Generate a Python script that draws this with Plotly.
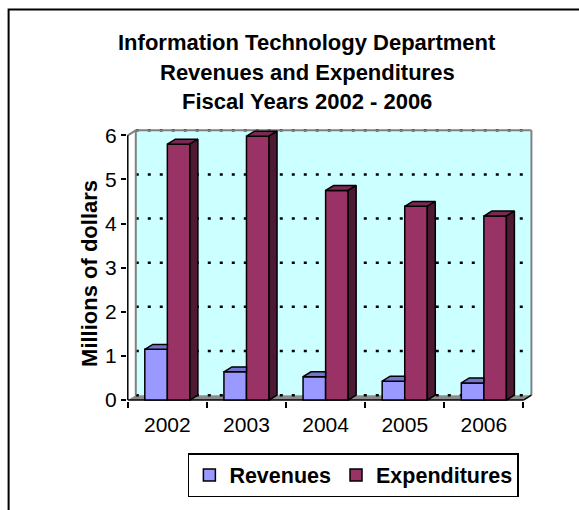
import plotly.graph_objects as go

# ---- data ----
years = ["2002", "2003", "2004", "2005", "2006"]
revenues = [1.15, 0.64, 0.53, 0.43, 0.39]
expenditures = [5.80, 5.98, 4.75, 4.39, 4.17]
y_ticks = [0, 1, 2, 3, 4, 5, 6]

# ---- geometry / style ----
W_PX, H_PX = 579, 510
DX, DY = 0.101, 0.113          # depth of the pseudo-3D boxes, in axis units
BAR_W = 0.285                  # width of each bar, in category units
PX_X, PX_Y = 79.0, 44.17       # pixels per axis unit
X0_PX, Y0_PX = 128.0, 400.0    # pixel position of (x=-0.5, y=0)

x_lo, x_hi = -0.51, 4.5 + DX + 0.02
y_lo, y_hi = -0.02, 6 + DY + 0.03

ml = X0_PX - (-0.5 - x_lo) * PX_X
pw = (x_hi - x_lo) * PX_X
mr = W_PX - ml - pw
bottom_px = Y0_PX + (0 - y_lo) * PX_Y
mb = H_PX - bottom_px
ph = (y_hi - y_lo) * PX_Y
mt = bottom_px - ph


def px_x(p):
    return (p - ml) / pw


def px_y(p):
    return (bottom_px - p) / ph


FONT = "Liberation Sans, Arial, sans-serif"
REV_FRONT, REV_TOP = "#9999FF", "#7474CC"
EXP_FRONT, EXP_TOP, EXP_SIDE = "#993366", "#7A2952", "#4D1933"
WALL = "#CCFFFF"
FLOOR = "#8C8C8C"
EDGE = "#808080"

xs = list(range(len(years)))

fig = go.Figure()

# front faces
fig.add_trace(go.Bar(
    x=xs, y=revenues, width=BAR_W, offset=-BAR_W, name="<b>Revenues</b>",
    marker=dict(color=REV_FRONT, line=dict(color="black", width=1.5)),
))
fig.add_trace(go.Bar(
    x=xs, y=expenditures, width=BAR_W, offset=0, name="<b>Expenditures</b>",
    marker=dict(color=EXP_FRONT, line=dict(color="black", width=1.5)),
))


def polys(faces):
    px, py = [], []
    for fx, fy in faces:
        px += fx + [fx[0], None]
        py += fy + [fy[0], None]
    return px, py


# revenue tops (right part hidden behind the expenditure bar)
rev_top = []
for i, h in zip(xs, revenues):
    a, b = i - BAR_W, i
    rev_top.append(([a, b, b, a + DX], [h, h, h + DY, h + DY]))

exp_top, exp_side = [], []
for i, h in zip(xs, expenditures):
    a, b = i, i + BAR_W
    exp_top.append(([a, b, b + DX, a + DX], [h, h, h + DY, h + DY]))
    exp_side.append(([b, b, b + DX, b + DX], [0, h, h + DY, DY]))

for faces, col in [(rev_top, REV_TOP), (exp_top, EXP_TOP), (exp_side, EXP_SIDE)]:
    fx, fy = polys(faces)
    fig.add_trace(go.Scatter(
        x=fx, y=fy, mode="lines", fill="toself", fillcolor=col,
        line=dict(color="black", width=1.5), hoverinfo="skip", showlegend=False,
    ))

shapes = []
# back wall
shapes.append(dict(type="rect", xref="x", yref="y", layer="below",
                   x0=-0.5 + DX, x1=4.5 + DX, y0=DY, y1=6 + DY,
                   fillcolor=WALL, line=dict(width=0)))
# floor
shapes.append(dict(type="path", xref="x", yref="y", layer="below",
                   path=f"M -0.5,0 L 4.5,0 L {4.5 + DX},{DY} L {-0.5 + DX},{DY} Z",
                   fillcolor=FLOOR, line=dict(width=0)))
# dotted gridlines on the wall
for v in y_ticks:
    shapes.append(dict(type="line", xref="x", yref="y", layer="below",
                       x0=-0.5 + DX, x1=4.5 + DX, y0=v + DY, y1=v + DY,
                       line=dict(color="black", width=2.5, dash="3px,9px")))
# wall edges
for x0, y0, x1, y1 in [(-0.5 + DX, DY, -0.5 + DX, 6 + DY),
                       (-0.5 + DX, 6 + DY, 4.5 + DX, 6 + DY),
                       (4.5 + DX, DY, 4.5 + DX, 6 + DY),
                       (-0.5, 6, -0.5 + DX, 6 + DY)]:
    shapes.append(dict(type="line", xref="x", yref="y", layer="below",
                       x0=x0, x1=x1, y0=y0, y1=y1,
                       line=dict(color=EDGE, width=2)))
# front axis lines
for x0, y0, x1, y1 in [(-0.5, 0, -0.5, 6), (-0.5, 0, 4.5, 0),
                       (4.5, 0, 4.5 + DX, DY)]:
    shapes.append(dict(type="line", xref="x", yref="y", layer="below",
                       x0=x0, x1=x1, y0=y0, y1=y1,
                       line=dict(color="black", width=1.5)))
# chart frame
shapes.append(dict(type="rect", xref="paper", yref="paper",
                   x0=px_x(9), y0=px_y(9), x1=px_x(620), y1=px_y(560),
                   line=dict(color="black", width=2), fillcolor="rgba(0,0,0,0)"))

annotations = []
for text, yy in [("Information Technology Department", 42),
                 ("Revenues and Expenditures", 72),
                 ("Fiscal Years 2002 - 2006", 101)]:
    annotations.append(dict(text=f"<b>{text}</b>", xref="paper", yref="paper",
                            x=px_x(307), y=px_y(yy), xanchor="center", yanchor="middle",
                            showarrow=False, font=dict(size=22, color="black", family=FONT)))
annotations.append(dict(text="<b>Millions of dollars</b>", xref="paper", yref="paper",
                        x=px_x(89), y=px_y(273), xanchor="center", yanchor="middle",
                        textangle=-90, showarrow=False,
                        font=dict(size=22, color="black", family=FONT)))

fig.update_layout(
    width=W_PX, height=H_PX,
    margin=dict(l=ml, r=mr, t=mt, b=mb, autoexpand=False),
    paper_bgcolor="white", plot_bgcolor="white",
    font=dict(family=FONT, color="black", size=20),
    barmode="overlay",
    shapes=shapes, annotations=annotations,
    showlegend=True,
    legend=dict(orientation="h", x=px_x(188), y=px_y(453),
                xanchor="left", yanchor="top",
                bordercolor="black", borderwidth=1.5, bgcolor="white",
                font=dict(size=21.5, family=FONT), itemclick=False),
    xaxis=dict(range=[x_lo, x_hi], tickvals=xs, ticktext=years, ticks="",
               showgrid=False, zeroline=False, showline=False,
               tickfont=dict(size=21), ticklabelstandoff=9,
               minor=dict(ticks="outside", tickvals=[i - 0.5 for i in range(len(years) + 1)],
                          ticklen=6, tickwidth=1.5, tickcolor="black", showgrid=False)),
    yaxis=dict(range=[y_lo, y_hi], tickvals=y_ticks, ticks="outside", ticklen=5,
               tickwidth=1.5, tickcolor="black", showgrid=False, zeroline=False,
               showline=False, tickfont=dict(size=21)),
)

fig.write_html("out.html")
